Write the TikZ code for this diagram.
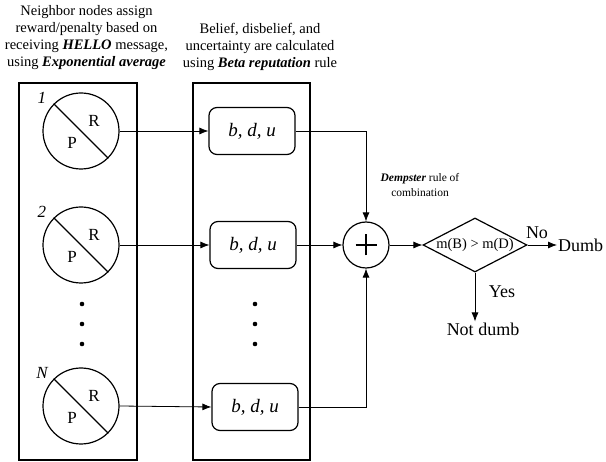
\documentclass[tikz,border=0pt]{standalone}
\usepackage{fontspec}
\setmainfont{Liberation Serif}
\usetikzlibrary{shapes.geometric,arrows.meta}
\tikzset{
  frame/.style={draw, line width=1.6pt},
  nb/.style={circle, draw, line width=1.2pt, minimum size=76pt, inner sep=0pt},
  rp/.style={font=\fontsize{17}{20}\selectfont, inner sep=0pt},
  idx/.style={font=\fontsize{17}{20}\selectfont\itshape, inner sep=0pt},
  bdu/.style={draw, rounded corners=8pt, line width=1.2pt, minimum width=86pt, minimum height=47pt, inner sep=0pt, font=\fontsize{19}{22}\selectfont\itshape},
  arr/.style={-{Latex[length=9pt,width=7pt]}, line width=0.8pt},
  head/.style={align=center, font=\fontsize{14.5}{17}\selectfont, inner sep=0pt},
  big/.style={font=\fontsize{18}{21}\selectfont, inner sep=1pt},
  dotm/.style={circle, fill, minimum size=4.6pt, inner sep=0pt},
}
\begin{document}
\begin{tikzpicture}[x=1pt,y=-1pt]
\useasboundingbox (0,0) rectangle (606,462);

% headers
\node[head] (h1) at (86.5,38) {Neighbor nodes assign\\reward/penalty based on\\receiving \textbf{\textit{HELLO}} message,\\using \textbf{\textit{Exponential average}}};
\node[head] (h2) at (260,47) {Belief, disbelief, and\\uncertainty are calculated\\using \textbf{\textit{Beta reputation}} rule};

% frames
\draw[frame] (19,83) rectangle (137,460);
\draw[frame] (193,83) rectangle (310,460);

% neighbor circles
\foreach \nm/\yy/\lb in {n1/131/1, n2/245/2, nN/406/N}{
  \node[nb] (\nm) at (81,\yy) {};
  \draw[line width=1.2pt] (\nm.135) -- (\nm.-45);
  \node[rp] (\nm R) at ([shift={(13,-10)}]\nm.center) {R};
  \node[rp] (\nm P) at ([shift={(-9,12)}]\nm.center) {P};
  \node[idx] (\nm L) at ([shift={(-39,-33)}]\nm.center) {\lb};
}

% dots
\foreach \yy [count=\i] in {304,324,344}{
  \node[dotm] (dl\i) at (82,\yy) {};
  \node[dotm] (dm\i) at (255,\yy) {};
}

% b,d,u boxes
\node[bdu] (b1) at (252,131) {b, d, u};
\node[bdu] (b2) at (253,245) {b, d, u};
\node[bdu] (bN) at (255,407) {b, d, u};

% combination
\node[circle, draw, line width=1.2pt, minimum size=46pt, inner sep=0pt] (plus) at (366,245) {};
\draw[line width=2pt] ([xshift=-10.5pt]plus.center) -- ([xshift=10.5pt]plus.center);
\draw[line width=2pt] ([yshift=-10.5pt]plus.center) -- ([yshift=10.5pt]plus.center);
\node[align=center, font=\fontsize{11.5}{15}\selectfont, inner sep=0pt] (demp) at (420,185.5) {\textbf{\textit{Dempster}} rule of\\combination};

% decision
\node[diamond, draw, line width=1.2pt, aspect=1.93, minimum width=104pt, minimum height=54pt, inner sep=0pt, font=\fontsize{14.5}{16}\selectfont] (dia) at (475,245) {\makebox[0pt]{m(B) > m(D)}};
\node[big, anchor=west] (dumb) at (557,245) {Dumb};
\node[big] (notdumb) at (483,329) {Not dumb};
\node[big] (no) at (537,233) {No};
\node[big] (yes) at (502,292) {Yes};

% connectors
\draw[arr] (n1.east) -- (b1.west);
\draw[arr] (n2.east) -- (b2.west);
\draw[arr] (nN.east) -- (bN.west);
\draw[arr] (b1.east) -| (plus.north);
\draw[arr] (b2.east) -- (plus.west);
\draw[arr] (bN.east) -| (plus.south);
\draw[arr] (plus.east) -- (dia.west);
\draw[arr] (dia.east) -- (dumb.west);
\draw[arr] (dia.south) -- (dia.south |- notdumb.north);
\end{tikzpicture}
\end{document}
